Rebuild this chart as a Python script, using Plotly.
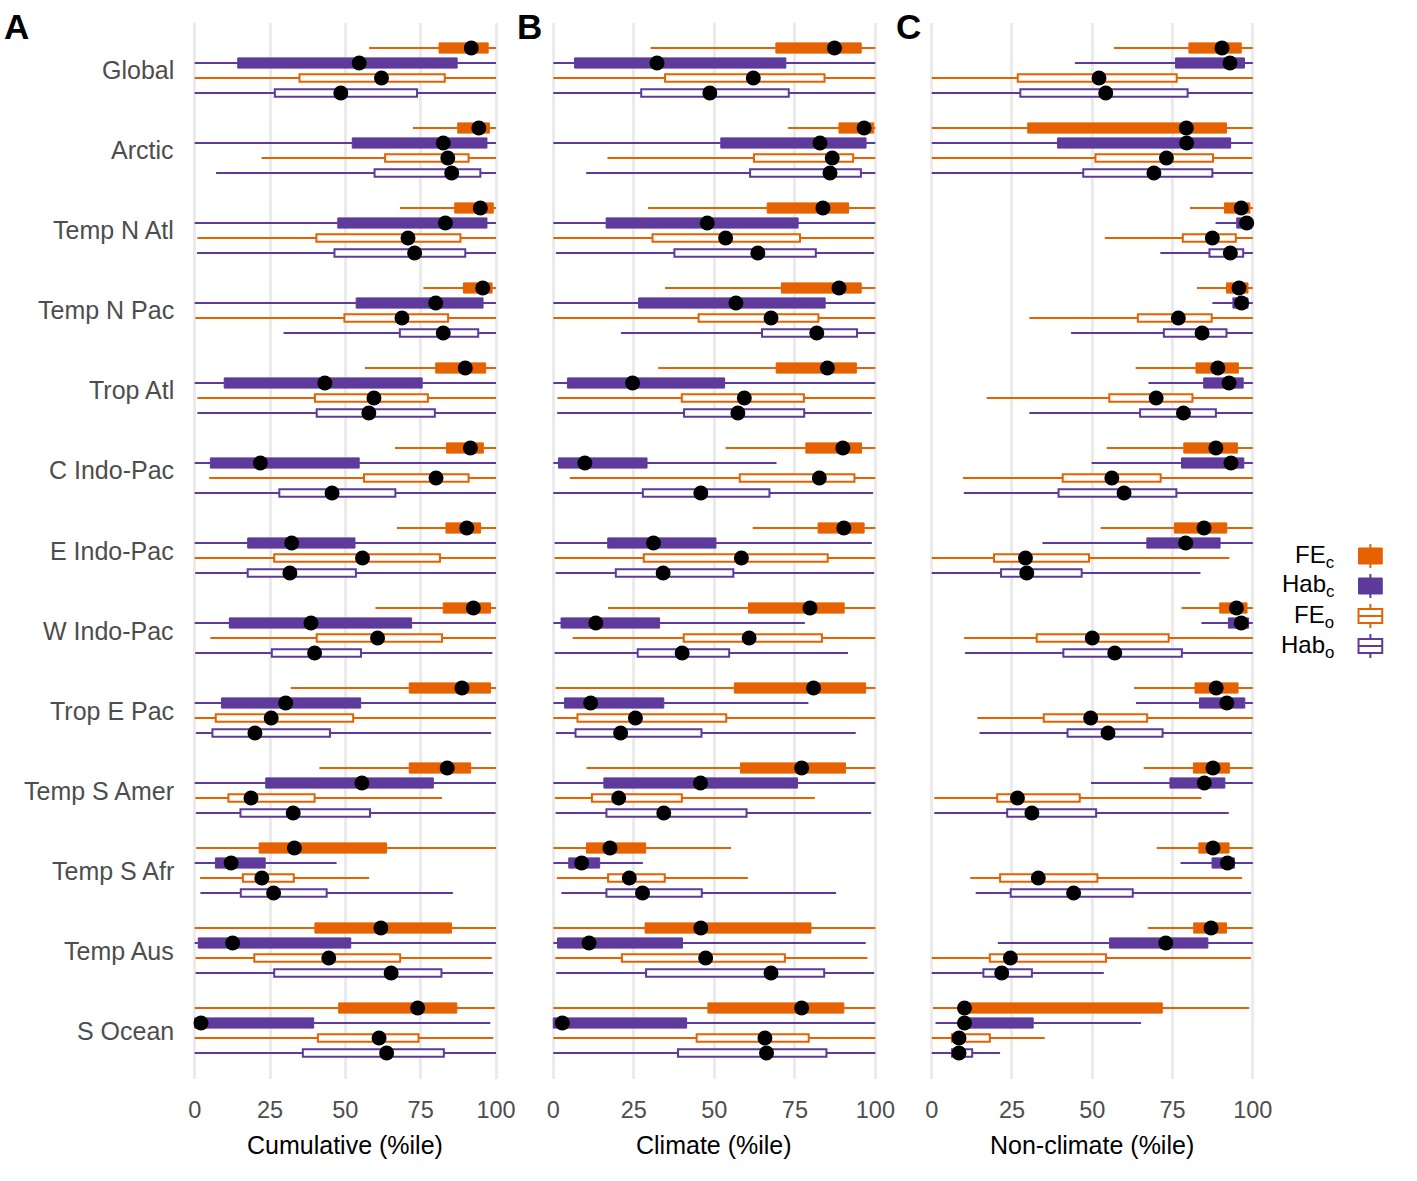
import plotly.graph_objects as go

# ---------------- data ----------------
REGIONS = ["Global", "Arctic", "Temp N Atl", "Temp N Pac", "Trop Atl", "C Indo-Pac",
           "E Indo-Pac", "W Indo-Pac", "Trop E Pac", "Temp S Amer", "Temp S Afr",
           "Temp Aus", "S Ocean"]

SERIES = ["FE_c", "Hab_c", "FE_o", "Hab_o"]
SERIES_LABELS = ["FE<sub>c</sub>", "Hab<sub>c</sub>", "FE<sub>o</sub>", "Hab<sub>o</sub>"]
PANEL_TITLES = ["Cumulative (%ile)", "Climate (%ile)", "Non-climate (%ile)"]
PANEL_LETTERS = ["A", "B", "C"]
X_TICKS = [0, 25, 50, 75, 100]

# each entry: (min, q1, median, q3, max) per region
CUM_FE_C = [(57.9, 81.1, 91.8, 97.4, 100), (72.4, 87.3, 94.3, 97.8, 100), (68.1, 86.3, 94.8, 99.1, 100),
            (75.9, 89.2, 95.6, 98.7, 100), (56.5, 80.0, 89.8, 96.6, 100), (66.5, 83.6, 91.5, 95.8, 100),
            (67.1, 83.4, 90.3, 94.9, 100), (60.0, 82.5, 92.5, 98.2, 100), (31.9, 71.2, 88.7, 98.2, 100),
            (41.4, 71.2, 83.8, 91.6, 100), (0.5, 21.4, 33.1, 63.7, 100), (0, 39.9, 61.8, 85.2, 100),
            (0, 47.8, 74.0, 87.0, 99.6)]
CUM_HAB_C = [(0, 14.3, 54.6, 87.1, 100), (0, 52.3, 82.5, 97.0, 100), (0, 47.5, 83.2, 97.0, 100),
             (0, 53.6, 80.0, 95.7, 100), (0, 9.8, 43.2, 75.5, 100), (0, 5.2, 21.8, 54.6, 100),
             (0, 17.6, 32.2, 53.2, 100), (0, 11.5, 38.6, 72.0, 100), (0, 8.9, 30.2, 55.1, 100),
             (0, 23.6, 55.5, 79.2, 100), (0, 6.9, 12.1, 23.4, 47.1), (0, 1.2, 12.6, 51.8, 100),
             (0, 0, 2.1, 39.5, 98.1)]
CUM_FE_O = [(0, 34.8, 62.0, 83.0, 100), (22.2, 63.2, 84.0, 90.9, 100), (0.9, 40.4, 70.8, 88.2, 100),
            (0.2, 49.7, 68.8, 84.1, 100), (0.9, 39.9, 59.5, 77.4, 100), (4.8, 56.2, 80.1, 90.9, 100),
            (0, 26.4, 55.7, 81.4, 100), (5.2, 40.5, 60.7, 82.1, 100), (0, 7.0, 25.4, 52.6, 100),
            (0.2, 11.2, 18.7, 39.8, 82.1), (1.8, 16.0, 22.3, 32.9, 57.9), (0.3, 19.8, 44.5, 68.2, 98.6),
            (0, 40.9, 61.2, 74.3, 99.1)]
CUM_HAB_O = [(0, 26.6, 48.5, 73.8, 100), (7.1, 59.7, 85.3, 94.8, 100), (0.8, 46.4, 73.0, 89.8, 100),
             (29.5, 68.1, 82.5, 94.1, 100), (0.9, 40.5, 57.8, 79.7, 100), (0, 28.1, 45.6, 66.6, 100),
             (0.2, 17.6, 31.6, 53.5, 100), (0.2, 25.6, 39.8, 55.2, 98.8), (0.4, 5.9, 20.0, 44.9, 98.4),
             (0.4, 15.2, 32.7, 58.2, 99.9), (1.9, 15.3, 26.2, 43.8, 85.7), (0.3, 26.4, 65.2, 81.9, 99.0),
             (0, 35.9, 63.7, 82.7, 100)]

CLI_FE_C = [(30.2, 69.1, 87.3, 95.6, 100), (72.9, 88.7, 96.5, 99.5, 100), (29.4, 66.4, 83.7, 91.7, 100),
            (34.7, 70.8, 88.7, 95.6, 100), (32.6, 69.2, 85.1, 94.1, 100), (53.5, 78.4, 89.9, 95.7, 100),
            (61.9, 82.2, 90.2, 96.5, 100), (17.0, 60.6, 79.7, 90.3, 100), (0.7, 56.2, 80.8, 97.0, 100),
            (10.3, 58.1, 77.1, 90.7, 100), (0, 10.3, 17.6, 28.7, 55.2), (0, 28.5, 45.8, 80.0, 100),
            (0, 48.0, 77.1, 90.2, 100)]
CLI_HAB_C = [(0, 6.6, 32.2, 72.2, 100), (0, 52.0, 82.8, 97.1, 100), (0, 16.4, 47.8, 76.0, 100),
             (0, 26.5, 56.7, 84.4, 100), (0, 4.4, 24.6, 53.2, 100), (0, 1.6, 9.8, 29.1, 69.3),
             (0.4, 16.9, 31.1, 50.5, 98.9), (0, 2.4, 13.2, 33.0, 78.1), (0, 3.5, 11.6, 34.3, 79.2),
             (0, 15.7, 45.7, 75.8, 100), (0, 4.8, 8.8, 14.4, 27.8), (0, 1.3, 11.1, 40.1, 97.0),
             (0, 0, 2.8, 41.4, 100)]
CLI_FE_O = [(0, 34.7, 62.1, 84.2, 100), (16.8, 62.3, 86.6, 93.1, 100), (0, 30.8, 53.5, 76.6, 99.6),
            (0, 45.1, 67.6, 82.3, 100), (1.3, 39.9, 59.3, 77.8, 100), (5.1, 57.9, 82.6, 93.5, 100),
            (0.4, 28.1, 58.4, 85.2, 100), (6.0, 40.5, 60.8, 83.4, 100), (0, 7.5, 25.5, 53.7, 100),
            (0.5, 12.0, 20.3, 39.9, 81.2), (1.1, 17.0, 23.6, 34.6, 60.4), (0.6, 21.3, 47.3, 71.9, 97.5),
            (0, 44.5, 65.7, 79.3, 100)]
CLI_HAB_O = [(0, 27.3, 48.6, 73.1, 100), (10.2, 61.1, 85.9, 95.5, 100), (0.8, 37.6, 63.5, 81.5, 99.6),
             (21.0, 64.8, 81.8, 94.3, 100), (1.2, 40.6, 57.3, 77.9, 98.9), (0, 27.8, 45.8, 67.1, 99.3),
             (0.7, 19.4, 34.1, 55.9, 99.6), (0.4, 26.2, 40.0, 54.6, 91.5), (0.8, 6.9, 20.9, 46.0, 93.9),
             (0.7, 16.5, 34.3, 60.0, 98.7), (2.5, 16.5, 27.7, 46.1, 87.8), (0.9, 28.8, 67.6, 84.1, 99.6),
             (0, 38.7, 66.2, 84.8, 100)]

NON_FE_C = [(56.7, 80.1, 90.4, 96.4, 100), (0, 29.9, 79.3, 91.8, 100), (80.4, 91.2, 96.4, 99.1, 100),
            (82.6, 91.8, 95.7, 98.5, 100), (63.5, 82.3, 89.1, 95.5, 100), (54.5, 78.5, 88.5, 95.2, 100),
            (52.6, 75.6, 84.8, 91.9, 100), (77.8, 89.7, 94.9, 98.2, 100), (63.0, 82.0, 88.6, 95.4, 100),
            (66.0, 81.5, 87.6, 92.7, 100), (70.1, 83.2, 87.6, 92.6, 100), (67.3, 81.6, 87.0, 91.8, 100),
            (0.4, 10.2, 10.2, 71.8, 98.9)]
NON_HAB_C = [(44.6, 75.9, 92.9, 97.4, 100), (0, 39.2, 79.4, 93.1, 100), (88.4, 95.0, 98.1, 98.6, 100),
             (87.4, 93.8, 96.5, 98.5, 100), (67.5, 84.7, 92.6, 97.0, 100), (49.8, 77.8, 93.2, 97.2, 100),
             (34.5, 67.0, 79.1, 89.8, 100), (84.0, 92.4, 96.4, 98.7, 100), (63.6, 83.4, 91.9, 97.5, 100),
             (49.6, 74.2, 84.9, 91.3, 100), (77.5, 87.3, 92.1, 94.3, 100), (20.6, 55.4, 72.9, 86.0, 100),
             (1.2, 10.2, 10.2, 31.6, 65.2)]
NON_FE_O = [(0, 26.8, 52.1, 76.3, 100), (0, 51.0, 73.1, 87.6, 99.8), (53.9, 78.2, 87.4, 94.7, 100),
            (30.4, 64.2, 76.8, 87.2, 100), (17.1, 55.3, 69.9, 81.2, 100), (9.7, 40.8, 56.1, 71.3, 100),
            (0, 19.4, 29.2, 49.0, 92.7), (10.1, 32.7, 50.0, 73.8, 100), (14.2, 34.9, 49.5, 67.1, 100),
            (0.8, 20.4, 26.7, 46.1, 84.0), (12.0, 21.3, 33.2, 51.6, 96.7), (0, 18.1, 24.5, 54.3, 99.4),
            (0, 6.3, 8.5, 18.1, 35.2)]
NON_HAB_O = [(0, 27.6, 54.2, 79.7, 100), (0, 47.2, 69.2, 87.4, 100), (71.2, 86.5, 93.0, 97.0, 100),
             (43.4, 72.3, 84.2, 91.8, 100), (30.4, 64.9, 78.4, 88.5, 100), (10.0, 39.5, 59.9, 76.2, 100),
             (0, 21.6, 29.6, 46.7, 83.7), (10.4, 41.0, 57.0, 77.9, 100), (14.9, 42.3, 54.9, 71.9, 99.8),
             (0.8, 23.5, 31.2, 51.2, 92.5), (13.7, 24.6, 44.2, 62.6, 99.5), (0, 16.1, 21.8, 31.2, 53.6),
             (0, 6.3, 8.5, 12.6, 21.3)]

PANELS = [
    [CUM_FE_C, CUM_HAB_C, CUM_FE_O, CUM_HAB_O],
    [CLI_FE_C, CLI_HAB_C, CLI_FE_O, CLI_HAB_O],
    [NON_FE_C, NON_HAB_C, NON_FE_O, NON_HAB_O],
]

# ---------------- styling ----------------
W, H = 1417, 1181
ORANGE = "#E66100"
PURPLE = "#5D3A9B"
COLORS = [ORANGE, PURPLE, ORANGE, PURPLE]
FILLED = [True, True, False, False]
OFFSETS = [-0.28125, -0.09375, 0.09375, 0.28125]
FONT = "Liberation Sans, Arial, Helvetica, sans-serif"
GREY_TXT = "#4D4D4D"

# pixel positions of 0 and 100 for each panel
ZERO_PX = [195, 558, 941]
HUND_PX = [500, 884, 1266]
XR = [-1.5, 101.5]
Y_TOP_PX, Y_BOT_PX = 22.5, 1078.5

fig = go.Figure()
shapes = []
annotations = []

for p, panel in enumerate(PANELS):
    xa = "x" if p == 0 else f"x{p+1}"
    ya = "y" if p == 0 else f"y{p+1}"
    for s, data in enumerate(panel):
        xs, ys = [], []
        for i, (mn, q1, md, q3, mx) in enumerate(data):
            pos = i + OFFSETS[s]
            xs += [mn, q1, None, q3, mx, None]
            ys += [pos, pos, None, pos, pos, None]
            if FILLED[s]:
                shapes.append(dict(type="rect", xref=xa, yref=ya, x0=q1, x1=q3,
                                   y0=pos - 0.064, y1=pos + 0.064, fillcolor=COLORS[s],
                                   line=dict(color=COLORS[s], width=1), layer="between"))
            else:
                shapes.append(dict(type="rect", xref=xa, yref=ya, x0=q1, x1=q3,
                                   y0=pos - 0.046, y1=pos + 0.046, fillcolor="white",
                                   line=dict(color=COLORS[s], width=2), layer="between"))
        fig.add_trace(go.Scatter(x=xs, y=ys, mode="lines", xaxis=xa, yaxis=ya,
                                 line=dict(color=COLORS[s], width=2), showlegend=False,
                                 hoverinfo="skip", cliponaxis=False))
    # medians
    mx_, my_ = [], []
    for s, data in enumerate(panel):
        for i, row in enumerate(data):
            mx_.append(row[2])
            my_.append(i + OFFSETS[s])
    fig.add_trace(go.Scatter(x=mx_, y=my_, mode="markers", xaxis=xa, yaxis=ya,
                             marker=dict(color="black", size=15, line=dict(width=0)),
                             showlegend=False, cliponaxis=False))

# axes
layout_axes = {}
for p in range(3):
    ppu = (HUND_PX[p] - ZERO_PX[p]) / 100.0
    left_px = ZERO_PX[p] + XR[0] * ppu
    right_px = ZERO_PX[p] + XR[1] * ppu
    xkey = "xaxis" if p == 0 else f"xaxis{p+1}"
    ykey = "yaxis" if p == 0 else f"yaxis{p+1}"
    ya = "y" if p == 0 else f"y{p+1}"
    xa = "x" if p == 0 else f"x{p+1}"
    layout_axes[xkey] = dict(domain=[left_px / W, right_px / W], range=XR, anchor=ya,
                             tickvals=X_TICKS, ticktext=[str(t) for t in X_TICKS],
                             showgrid=True, gridcolor="#EBEBEB", gridwidth=3,
                             zeroline=False, showline=False, ticks="",
                             tickfont=dict(size=23.5, color=GREY_TXT, family=FONT),
                             ticklabelstandoff=15, fixedrange=True)
    layout_axes[ykey] = dict(domain=[1 - Y_BOT_PX / H, 1 - Y_TOP_PX / H], range=[12.6, -0.6],
                             anchor=xa, showgrid=False, zeroline=False, showline=False,
                             showticklabels=False, ticks="", fixedrange=True)
    annotations.append(dict(text=PANEL_TITLES[p], xref=xa, x=50, yref="paper",
                            y=1 - 1145 / H, yanchor="middle", xanchor="center",
                            showarrow=False, font=dict(size=25, color="black", family=FONT)))

# panel letters
LETTER_PX = [0, 519, 903]
for p, L in enumerate(PANEL_LETTERS):
    annotations.append(dict(text=f"<b>{L}</b>", xref="paper", x=LETTER_PX[p] / W, xanchor="left",
                            yref="paper", y=1 - 26 / H, yanchor="middle", showarrow=False,
                            font=dict(size=35, color="black", family=FONT)))

# region labels
for i, r in enumerate(REGIONS):
    annotations.append(dict(text=r, xref="paper", x=176 / W, xanchor="right", yref="y", y=i,
                            yanchor="middle", showarrow=False,
                            font=dict(size=25, color=GREY_TXT, family=FONT)))

# legend (manual)
LEG_Y = [556, 586, 616, 646]
KX0, KX1, KXC = 1373, 1397, 1385
for s in range(4):
    yc = LEG_Y[s]
    annotations.append(dict(text=SERIES_LABELS[s], xref="paper", x=1350 / W, xanchor="right",
                            yref="paper", y=1 - yc / H, yanchor="middle", showarrow=False,
                            font=dict(size=24, color="black", family=FONT)))
    shapes.append(dict(type="line", xref="paper", yref="paper", x0=KXC / W, x1=KXC / W,
                       y0=1 - (yc - 12) / H, y1=1 - (yc + 12) / H,
                       line=dict(color=COLORS[s], width=2)))
    if FILLED[s]:
        shapes.append(dict(type="rect", xref="paper", yref="paper", x0=KX0 / W, x1=KX1 / W,
                           y0=1 - (yc - 8) / H, y1=1 - (yc + 8) / H, fillcolor=COLORS[s],
                           line=dict(color=COLORS[s], width=1)))
    else:
        shapes.append(dict(type="rect", xref="paper", yref="paper", x0=KX0 / W, x1=KX1 / W,
                           y0=1 - (yc - 7) / H, y1=1 - (yc + 7) / H, fillcolor="white",
                           line=dict(color=COLORS[s], width=2)))
        shapes.append(dict(type="line", xref="paper", yref="paper", x0=KX0 / W, x1=KX1 / W,
                           y0=1 - yc / H, y1=1 - yc / H, line=dict(color=COLORS[s], width=2)))

fig.update_layout(width=W, height=H, autosize=False, margin=dict(l=0, r=0, t=0, b=0),
                  paper_bgcolor="white", plot_bgcolor="white", showlegend=False,
                  font=dict(family=FONT), shapes=shapes, annotations=annotations,
                  **layout_axes)

fig.write_html("out.html")
